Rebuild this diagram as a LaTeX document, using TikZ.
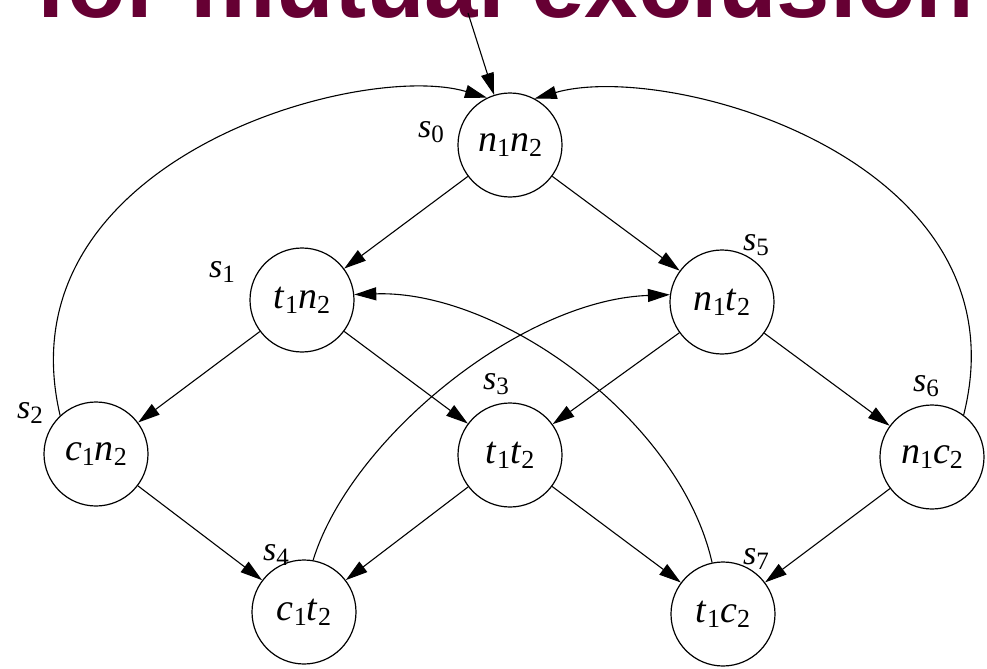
\documentclass[tikz,border=0pt]{standalone}
\usepackage{fontspec}
\setmainfont{Liberation Serif}
\newfontfamily\titlefont{Liberation Sans}
\usetikzlibrary{arrows.meta}
\definecolor{titlered}{RGB}{102,0,51}
\newcommand\sbs[1]{\raisebox{-2.4pt}{\fontsize{13}{13}\selectfont #1}}
\newcommand\stname[4]{\textit{#1}\sbs{#2}\textit{#3}\sbs{#4}}
\newcommand\lsub[1]{\raisebox{-2.4pt}{\fontsize{12.5}{12.5}\selectfont #1}}
\newcommand\slab[1]{\textit{s}\lsub{#1}}
\begin{document}
\begin{tikzpicture}[x=0.5pt,y=-0.5pt,
  state/.style={circle,draw,line width=0.6pt,minimum size=52pt,inner sep=0pt,font=\fontsize{19}{19}\selectfont},
  slabel/.style={font=\fontsize{17}{17}\selectfont,inner sep=0pt},
  edge/.style={line width=0.55pt,-{Triangle[length=11pt,width=6.5pt]}},
]
\useasboundingbox (0,0) rectangle (987,669);
\node[font=\titlefont\bfseries\fontsize{48}{48}\selectfont, text=titlered, anchor=base] (title) at (505,18) {for mutual exclusion};

\node[state] (s0) at (510,145) {\stname{n}{1}{n}{2}};
\node[state] (s1) at (302,300) {\stname{t}{1}{n}{2}};
\node[state] (s5) at (722,302) {\stname{n}{1}{t}{2}};
\node[state] (s2) at (96,454) {\stname{c}{1}{n}{2}};
\node[state] (s3) at (510,455) {\stname{t}{1}{t}{2}};
\node[state] (s6) at (932,457) {\stname{n}{1}{c}{2}};
\node[state] (s4) at (304,612) {\stname{c}{1}{t}{2}};
\node[state] (s7) at (723,614) {\stname{t}{1}{c}{2}};

\node[slabel] (l0) at (431,132) {\slab{0}};
\node[slabel] (l1) at (222,272) {\slab{1}};
\node[slabel] (l5) at (756,245) {\slab{5}};
\node[slabel] (l2) at (30,413) {\slab{2}};
\node[slabel] (l3) at (496,384) {\slab{3}};
\node[slabel] (l6) at (926,386) {\slab{6}};
\node[slabel] (l4) at (276,555) {\slab{4}};
\node[slabel] (l7) at (756,559) {\slab{7}};

\coordinate (init) at (468,13);
\draw[edge] (init) -- (s0);
\draw[edge] (s0) -- (s1);
\draw[edge] (s0) -- (s5);
\draw[edge] (s1) -- (s2);
\draw[edge] (s1) -- (s3);
\draw[edge] (s5) -- (s3);
\draw[edge] (s5) -- (s6);
\draw[edge] (s2) -- (s4);
\draw[edge] (s3) -- (s4);
\draw[edge] (s3) -- (s7);
\draw[edge] (s6) -- (s7);
\draw[edge] (s2.133) .. controls (0,160) and (360,60) .. (s0.116);
\draw[edge] (s6.53) .. controls (1028,160) and (668,60) .. (s0.62);
\draw[edge] (s4.80) .. controls (350,440) and (520,300) .. (s5.172);
\draw[edge] (s7.102) .. controls (680,420) and (500,290) .. (s1.6);
\end{tikzpicture}
\end{document}
